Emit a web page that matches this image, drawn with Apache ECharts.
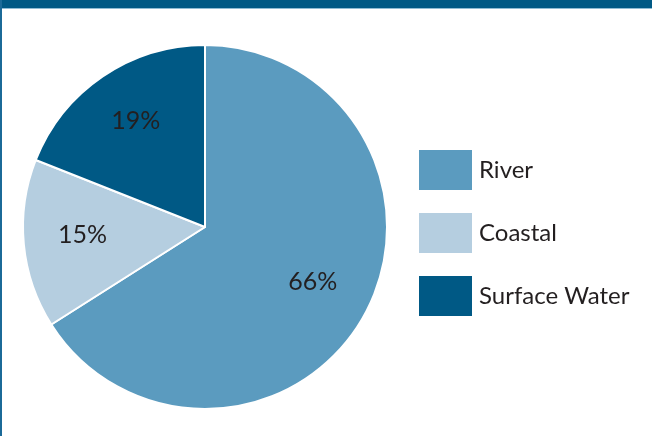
<!DOCTYPE html>
<html>
<head>
<meta charset="utf-8">
<script src="https://cdn.jsdelivr.net/npm/echarts@6/dist/echarts.min.js"></script>
<style>
  html, body { margin: 0; padding: 0; background: #fff; }
  #chart { width: 652px; height: 436px; }
</style>
</head>
<body>
<div id="chart"></div>
<script>
const categories = ["River", "Coastal", "Surface Water"];
const shares = [66, 15, 19];
const colors = ["#5b9bbf", "#b5cee0", "#005985"];

const chart = echarts.init(document.getElementById("chart"));

const pieData = categories.map((name, i) => ({
  name: name,
  value: shares[i],
  itemStyle: { color: colors[i] },
}));

const option = {
  animation: false,
  textStyle: { fontFamily: "Lato, 'Noto Sans', sans-serif" },
  graphic: [
    // frame: top band + left rule
    { type: "rect", shape: { x: 0, y: 0, width: 652, height: 8 }, style: { fill: "#005985" } },
    { type: "rect", shape: { x: 0, y: 8, width: 652, height: 1 }, style: { fill: "#8fbcd4" } },
    { type: "rect", shape: { x: 0, y: 0, width: 2, height: 436 }, style: { fill: "#1b6a98" } },
  ],
  legend: {
    orient: "vertical",
    left: 412,
    top: 143,
    icon: "rect",
    itemWidth: 55,
    itemHeight: 42,
    itemGap: 19,
    selectedMode: false,
    data: categories,
    textStyle: { fontSize: 24, color: "#231f20", padding: [0, 0, 0, 1] },
  },
  series: [
    {
      type: "pie",
      center: [205, 227],
      radius: [0, 182],
      startAngle: 90,
      clockwise: true,
      data: pieData,
      label: { show: false },
      labelLine: { show: false },
      itemStyle: { borderColor: "#fff", borderWidth: 2 },
      emphasis: { disabled: true },
    },
    {
      // transparent ring used only to put the % labels farther out
      type: "pie",
      center: [205, 227],
      radius: [58, 182],
      startAngle: 90,
      clockwise: true,
      silent: true,
      data: categories.map((name, i) => ({ name: name, value: shares[i] })),
      itemStyle: { color: "rgba(0,0,0,0)" },
      label: {
        show: true,
        position: "inside",
        formatter: "{c}%",
        fontSize: 25,
        color: "#231f20",
      },
      labelLayout: { dy: -4 },
      labelLine: { show: false },
      emphasis: { disabled: true },
    },
  ],
};

chart.setOption(option);
</script>
</body>
</html>
